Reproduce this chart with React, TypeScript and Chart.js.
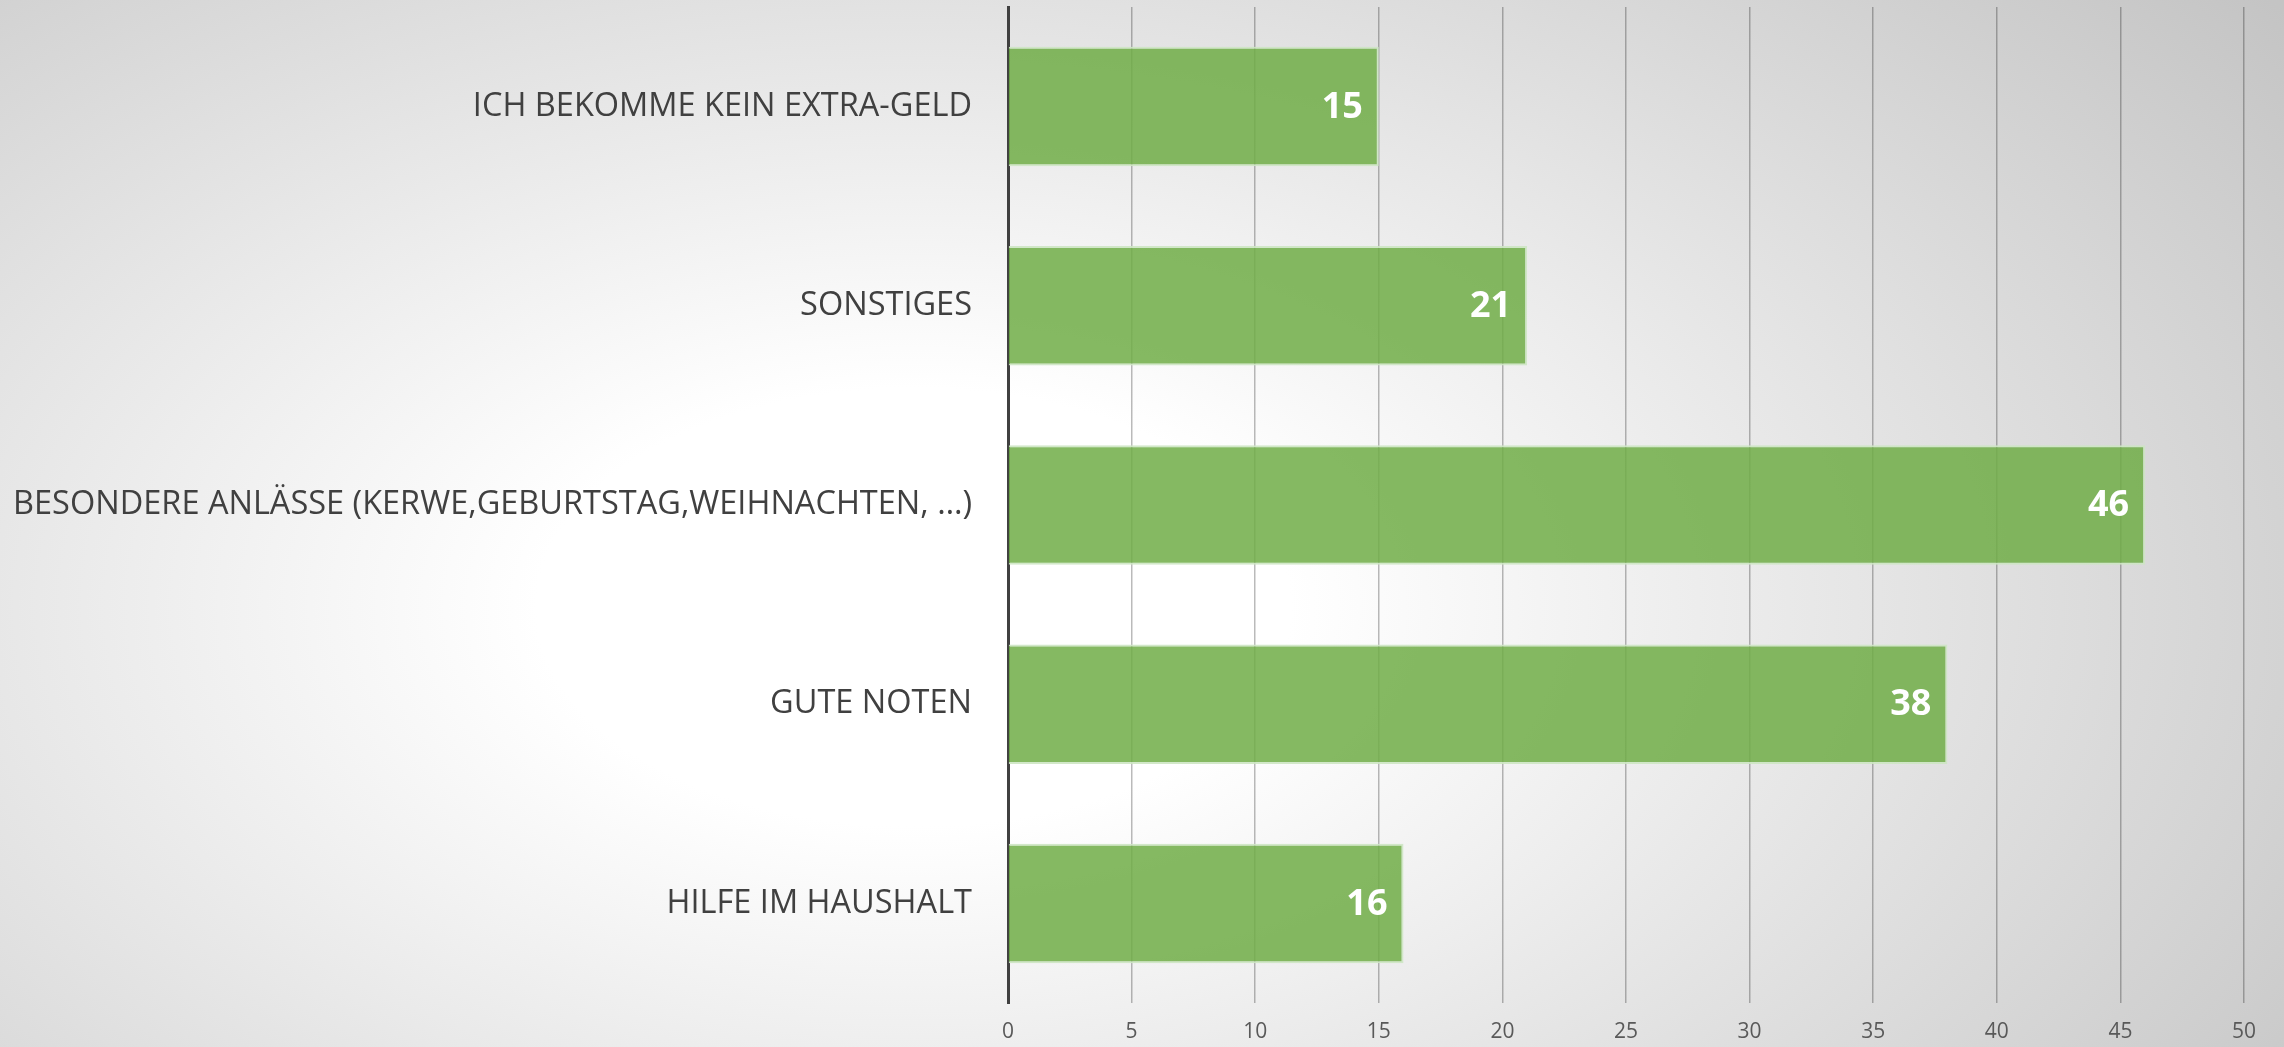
import React, { useEffect, useRef } from "react";
import { Chart, registerables } from "chart.js";

Chart.register(...registerables);

const categories = [
  "ICH BEKOMME KEIN EXTRA-GELD",
  "SONSTIGES",
  "BESONDERE ANLÄSSE (KERWE,GEBURTSTAG,WEIHNACHTEN, …)",
  "GUTE NOTEN",
  "HILFE IM HAUSHALT",
];
const values = [15, 21, 46, 38, 16];
const xTicks = [0, 5, 10, 15, 20, 25, 30, 35, 40, 45, 50];

const W = 2284;
const H = 1047;

const valueLabels = {
  id: "valueLabels",
  afterDatasetsDraw(chart: any) {
    const ctx = chart.ctx;
    const meta = chart.getDatasetMeta(0);
    ctx.save();
    ctx.fillStyle = "#ffffff";
    ctx.font = 'bold 36px "Open Sans"';
    ctx.textAlign = "right";
    ctx.textBaseline = "middle";
    meta.data.forEach((bar: any, i: number) => {
      const v = chart.data.datasets[0].data[i];
      ctx.fillText(String(v), bar.x - 16, bar.y + 1);
    });
    ctx.restore();
  },
};

export default function App() {
  const ref = useRef<HTMLCanvasElement | null>(null);

  useEffect(() => {
    document.body.style.margin = "0";
    const canvas = ref.current!;
    const chart = new Chart(canvas, {
      type: "bar",
      data: {
        labels: categories,
        datasets: [
          {
            data: values,
            backgroundColor: "rgba(112,173,71,0.85)",
            borderColor: "rgba(205,230,195,0.9)",
            borderWidth: 2,
            barPercentage: 0.6,
            categoryPercentage: 1,
          },
        ],
      },
      options: {
        indexAxis: "y",
        responsive: false,
        animation: false,
        devicePixelRatio: 1,
        layout: { padding: { top: 7, right: 40, left: 0, bottom: 0 } },
        plugins: {
          legend: { display: false },
          tooltip: { enabled: false },
        },
        scales: {
          x: {
            min: 0,
            max: 50,
            afterBuildTicks(scale: any) {
              scale.ticks = xTicks.map((v) => ({ value: v }));
            },
            afterFit(scale: any) {
              scale.height = 44;
              scale.paddingLeft = 0;
              scale.paddingRight = 0;
            },
            grid: {
              color: "rgba(0,0,0,0.27)",
              lineWidth: 1.5,
              drawTicks: false,
            },
            border: { display: false },
            ticks: {
              color: "#595959",
              font: { family: '"Open Sans"', size: 21 },
              padding: 16,
            },
          },
          y: {
            afterFit(scale: any) {
              scale.width = 1008;
              scale.paddingTop = 0;
              scale.paddingBottom = 0;
            },
            grid: { display: false, drawTicks: false },
            border: { display: true, color: "#404040", width: 3 },
            ticks: {
              color: "#404040",
              font: { family: '"Open Sans"', size: 32.5 },
              padding: 36,
            },
          },
        },
      },
      plugins: [valueLabels],
    });
    return () => chart.destroy();
  }, []);

  return (
    <div
      style={{
        position: "fixed",
        left: 0,
        top: 0,
        width: W,
        height: H,
        background:
          "radial-gradient(ellipse 75% 95% at 40% 58%, #ffffff 0%, #ffffff 22%, #c4c4c4 100%)",
      }}
    >
      <canvas ref={ref} width={W} height={H} style={{ display: "block" }} />
    </div>
  );
}
